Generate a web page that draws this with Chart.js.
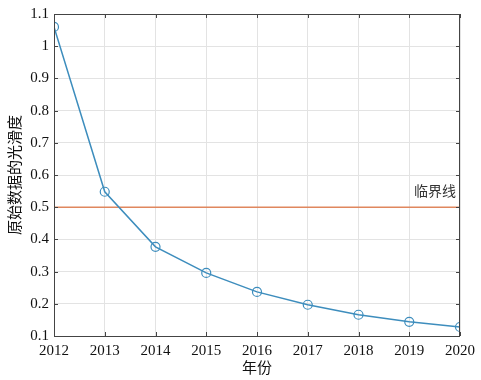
<!DOCTYPE html>
<html>
<head>
<meta charset="utf-8">
<script src="https://cdn.jsdelivr.net/npm/chart.js@4"></script>
<style>
  html, body { margin: 0; padding: 0; background: #fff; }
  #wrap { width: 481px; height: 380px; }
</style>
</head>
<body>
<div id="wrap"><canvas id="c" width="481" height="380"></canvas></div>
<script>
const years = [2012, 2013, 2014, 2015, 2016, 2017, 2018, 2019, 2020];
const smoothness = [1.06, 0.548, 0.377, 0.296, 0.237, 0.197, 0.166, 0.144, 0.128];
const threshold = 0.5;
const thresholdLabel = '临界线';
const xTitle = '年份';
const yTitle = '原始数据的光滑度';

const FONT = '"Liberation Serif", "Times New Roman", "Noto Sans CJK SC", serif';

// box around the axes plus inward tick marks, like the original figure
const boxPlugin = {
    id: 'box',
    afterDatasetsDraw(chart) {
        const { ctx, chartArea: a, scales } = chart;
        ctx.save();
        // threshold label
        ctx.font = '14px ' + FONT;
        ctx.fillStyle = '#333';
        ctx.textAlign = 'right';
        ctx.textBaseline = 'bottom';
        ctx.fillText(thresholdLabel, scales.x.getPixelForValue(2020) - 4, scales.y.getPixelForValue(threshold) - 8);

        ctx.strokeStyle = '#444';
        ctx.lineWidth = 1;
        ctx.strokeRect(a.left + 0.5, a.top + 0.5, a.right - a.left - 1, a.bottom - a.top);
        ctx.beginPath();
        scales.x.ticks.forEach(t => {
            const px = Math.round(scales.x.getPixelForValue(t.value)) + 0.5;
            ctx.moveTo(px, a.bottom); ctx.lineTo(px, a.bottom - 4);
            ctx.moveTo(px, a.top); ctx.lineTo(px, a.top + 4);
        });
        scales.y.ticks.forEach(t => {
            const py = Math.round(scales.y.getPixelForValue(t.value)) + 0.5;
            ctx.moveTo(a.left, py); ctx.lineTo(a.left + 4, py);
            ctx.moveTo(a.right, py); ctx.lineTo(a.right - 4, py);
        });
        ctx.stroke();
        ctx.restore();
    }
};

new Chart(document.getElementById('c'), {
    type: 'line',
    data: {
        datasets: [
            {
                label: 'smoothness',
                data: years.map((y, i) => ({ x: y, y: smoothness[i] })),
                borderColor: '#3d8dbd',
                backgroundColor: 'rgba(0,0,0,0)',
                borderWidth: 1.5,
                pointRadius: 4.5,
                pointBorderWidth: 1.2,
                pointBorderColor: '#3d8dbd',
                pointBackgroundColor: 'rgba(0,0,0,0)',
                tension: 0
            },
            {
                label: 'threshold',
                data: [{ x: years[0], y: threshold }, { x: years[years.length - 1], y: threshold }],
                borderColor: '#e0875e',
                borderWidth: 1.5,
                pointRadius: 0
            }
        ]
    },
    plugins: [boxPlugin],
    options: {
        responsive: false,
        animation: false,
        layout: { padding: { left: 0, right: 20, top: 14, bottom: 0 } },
        plugins: { legend: { display: false }, tooltip: { enabled: false } },
        scales: {
            x: {
                type: 'linear',
                min: 2012, max: 2020,
                border: { display: false },
                grid: { color: '#e3e3e3', drawTicks: false },
                ticks: {
                    stepSize: 1, padding: 6, color: '#111',
                    font: { family: FONT, size: 15 },
                    callback: v => String(v)
                },
                title: { display: true, text: xTitle, color: '#111', font: { family: FONT, size: 15 }, padding: { top: 0, bottom: 2 } },
                afterFit: s => { s.height = 44; }
            },
            y: {
                min: 0.1, max: 1.1,
                border: { display: false },
                grid: { color: '#e3e3e3', drawTicks: false },
                ticks: {
                    stepSize: 0.1, padding: 5, color: '#111',
                    font: { family: FONT, size: 15 },
                    callback: v => String(Math.round(v * 10) / 10)
                },
                title: { display: true, text: yTitle, color: '#111', font: { family: FONT, size: 15 }, padding: { top: 7, bottom: 0 } },
                afterFit: s => { s.width = 54; }
            }
        }
    }
});
</script>
</body>
</html>
